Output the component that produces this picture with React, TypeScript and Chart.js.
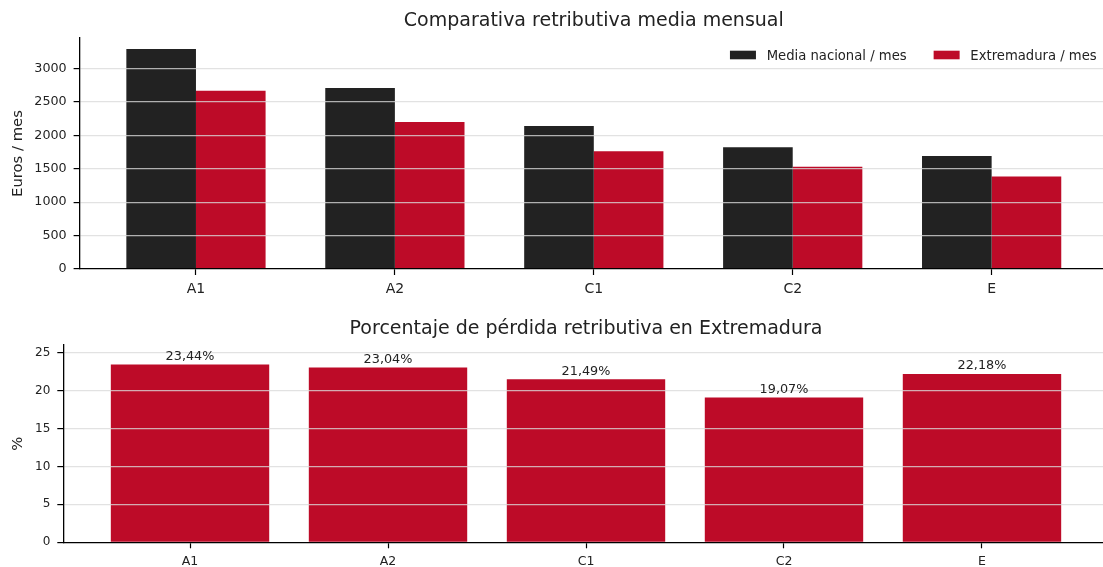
import React, { useEffect, useRef } from 'react';
import { Chart, registerables } from 'chart.js';

Chart.register(...registerables);

// ---- data ----
const categories = ['A1', 'A2', 'C1', 'C2', 'E'];
const nationalMonthly = [3292, 2708, 2140, 1821, 1691];
const extremaduraMonthly = [2667, 2201, 1761, 1529, 1384];
const lossPercent = [23.44, 23.04, 21.49, 19.07, 22.18];
const euroTicks = [0, 500, 1000, 1500, 2000, 2500, 3000];
const percentTicks = [0, 5, 10, 15, 20, 25];

const FONT = "'DejaVu Sans', 'Noto Sans', sans-serif";
const TEXT = '#222222';
const DARK = '#222222';
const RED = '#bd0b28';
const GRID = 'rgba(218,218,218,0.78)';

const fmtPct = (v: number) => v.toFixed(2).replace('.', ',') + '%';

const innerLegend = {
  id: 'innerLegend',
  afterDraw(chart: any) {
    const { ctx, chartArea } = chart;
    ctx.save();
    ctx.font = `13.2px ${FONT}`;
    ctx.textBaseline = 'alphabetic';
    ctx.textAlign = 'left';
    const baseY = chartArea.top + 22;
    let x = chartArea.right - 11.3;
    const ds = chart.data.datasets;
    for (let i = ds.length - 1; i >= 0; i--) {
      const label = ds[i].label as string;
      const w = ctx.measureText(label).width;
      ctx.fillStyle = TEXT;
      ctx.fillText(label, x - w, baseY);
      const bx = x - w - 10.7 - 26;
      ctx.fillStyle = ds[i].backgroundColor;
      ctx.fillRect(bx, baseY - 9.3, 26, 8.6);
      x = bx - 27;
    }
    ctx.restore();
  },
};

const barValueLabels = {
  id: 'barValueLabels',
  afterDraw(chart: any) {
    const { ctx } = chart;
    const meta = chart.getDatasetMeta(0);
    const data = chart.data.datasets[0].data;
    ctx.save();
    ctx.font = `12.8px ${FONT}`;
    ctx.fillStyle = TEXT;
    ctx.textAlign = 'center';
    ctx.textBaseline = 'alphabetic';
    meta.data.forEach((bar: any, i: number) => {
      ctx.fillText(fmtPct(data[i].y), bar.x, bar.y - 4.7);
    });
    ctx.restore();
  },
};

function xScale(min: number, max: number, fontSize: number, height: number) {
  return {
    type: 'linear' as const,
    min,
    max,
    offset: false,
    afterBuildTicks: (scale: any) => {
      scale.ticks = categories.map((_, i) => ({ value: i }));
    },
    afterFit: (scale: any) => {
      scale.height = height;
    },
    ticks: {
      callback: (v: any) => categories[v] ?? '',
      font: { family: FONT, size: fontSize },
      color: TEXT,
      padding: 6,
      maxRotation: 0,
      autoSkip: false,
      z: 2,
    },
    grid: {
      display: true,
      offset: false,
      drawOnChartArea: false,
      drawTicks: true,
      tickLength: 6,
      tickColor: '#000',
      tickWidth: 1.2,
      z: 2,
    },
    border: { display: true, color: '#000', width: 1.3, z: 3 },
  };
}

function yScale(max: number, tickVals: number[], fontSize: number, width: number, title: string) {
  return {
    type: 'linear' as const,
    min: 0,
    max,
    afterBuildTicks: (scale: any) => {
      scale.ticks = tickVals.map((v) => ({ value: v }));
    },
    afterFit: (scale: any) => {
      scale.width = width;
    },
    ticks: {
      callback: (v: any) => String(v),
      font: { family: FONT, size: fontSize },
      color: TEXT,
      padding: 7,
      z: 2,
    },
    grid: {
      display: true,
      color: (c: any) => (c.tick && c.tick.value === 0 ? 'rgba(0,0,0,0)' : GRID),
      lineWidth: 1.2,
      drawTicks: true,
      tickLength: 6,
      tickColor: '#000',
      tickWidth: 1.2,
      z: 1,
    },
    border: { display: true, color: '#000', width: 1.3, z: 3 },
    title: {
      display: true,
      text: title,
      font: { family: FONT, size: 14.8 },
      color: TEXT,
      padding: { top: 9.2, bottom: 0 },
    },
  };
}

export default function App() {
  const topRef = useRef<HTMLCanvasElement>(null);
  const botRef = useRef<HTMLCanvasElement>(null);

  useEffect(() => {
    const top = new Chart(topRef.current!, {
      type: 'bar',
      data: {
        datasets: [
          {
            label: 'Media nacional / mes',
            data: nationalMonthly.map((v, i) => ({ x: i, y: v })),
            backgroundColor: DARK,
            borderWidth: 0,
            categoryPercentage: 0.7,
            barPercentage: 1,
          },
          {
            label: 'Extremadura / mes',
            data: extremaduraMonthly.map((v, i) => ({ x: i, y: v })),
            backgroundColor: RED,
            borderWidth: 0,
            categoryPercentage: 0.7,
            barPercentage: 1,
          },
        ],
      },
      options: {
        responsive: false,
        maintainAspectRatio: false,
        animation: false,
        devicePixelRatio: 1,
        layout: { padding: { left: 0, right: 2, top: 0, bottom: 0 } },
        plugins: {
          legend: { display: false },
          tooltip: { enabled: false },
          title: {
            display: true,
            text: 'Comparativa retributiva media mensual',
            fullSize: false,
            font: { family: FONT, size: 19, weight: 'normal' },
            color: TEXT,
            padding: { top: 10, bottom: 5.2 },
          },
        },
        scales: {
          x: xScale(-0.585, 4.585, 14, 31),
          y: yScale(3456, euroTicks, 12.7, 79.6, 'Euros / mes'),
        },
      } as any,
      plugins: [innerLegend],
    });

    const bot = new Chart(botRef.current!, {
      type: 'bar',
      data: {
        datasets: [
          {
            label: 'Pérdida (%)',
            data: lossPercent.map((v, i) => ({ x: i, y: v })),
            backgroundColor: RED,
            borderWidth: 0,
            categoryPercentage: 0.8,
            barPercentage: 1,
          },
        ],
      },
      options: {
        responsive: false,
        maintainAspectRatio: false,
        animation: false,
        devicePixelRatio: 1,
        layout: { padding: { left: 0, right: 1.3, top: 0, bottom: 0 } },
        plugins: {
          legend: { display: false },
          tooltip: { enabled: false },
          title: {
            display: true,
            text: 'Porcentaje de pérdida retributiva en Extremadura',
            fullSize: false,
            font: { family: FONT, size: 19, weight: 'normal' },
            color: TEXT,
            padding: { top: 17.3, bottom: 4.9 },
          },
        },
        scales: {
          x: xScale(-0.64, 4.64, 12.5, 24.7),
          y: yScale(26, percentTicks, 12, 63.3, '%'),
        },
      } as any,
      plugins: [barValueLabels],
    });

    return () => {
      top.destroy();
      bot.destroy();
    };
  }, []);

  return (
    <div
      style={{
        position: 'fixed',
        left: 0,
        top: 0,
        width: 1103,
        height: 567,
        overflow: 'hidden',
        background: '#fff',
      }}
    >
      <canvas ref={topRef} width={1110} height={300} style={{ display: 'block', width: 1110, height: 300 }} />
      <canvas ref={botRef} width={1110} height={267} style={{ display: 'block', width: 1110, height: 267 }} />
    </div>
  );
}
